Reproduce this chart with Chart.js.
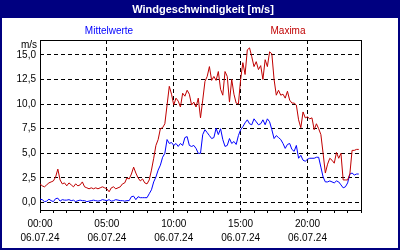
<!DOCTYPE html>
<html lang="de">
<head>
<meta charset="UTF-8">
<title>Windgeschwindigkeit</title>
<script src="https://cdn.jsdelivr.net/npm/chart.js"></script>
<style>
    body { margin: 0; padding: 0; background: #fff; }
    #wrap { width: 400px; height: 250px; }
</style>
</head>
<body>
<div id="wrap"><canvas id="wind" width="400" height="250"></canvas></div>
<script>
// Messwerte im 10-Minuten-Takt, 06.07.24 00:00 - 23:50
const stepHours = 1 / 6;
const meanValues = [
    0.35, 0.3, 0.1, 0.15, 0.35, 0.2,
    0.1, 0.4, 0.45, 0.15, 0.3, 0.25,
    0.25, 0.3, 0.2, 0.25, 0.1, 0.2,
    0.25, 0.2, 0.2, 0.1, 0.15, 0.2,
    0.25, 0.2, 0.15, 0.2, 0.3, 0.25,
    0.2, 0.3, 0.15, 0.2, 0.3, 0.25,
    0.2, 0.2, 0.15, 0.2, 0.2, 0.6,
    0.65, 0.3, 0.6, 0.5, 0.5, 0.5,
    0.5, 0.9, 1.3, 2.1, 2.6, 3.3,
    3.8, 4.6, 5.0, 6.4, 6.0, 6.1,
    5.8, 6.0, 5.7, 6.0, 5.8, 6.6,
    6.7, 5.8, 5.7, 5.8, 5.5, 5.0,
    5.0, 6.9, 7.4, 7.1, 6.8, 6.5,
    6.6, 7.55, 6.9, 7.5, 6.4, 5.7,
    5.8, 6.5, 6.0, 6.2, 5.9, 6.8,
    7.4, 7.7, 8.1, 8.4, 8.0, 7.9,
    8.5, 8.2, 7.9, 8.0, 8.4, 7.9,
    8.5, 8.2, 7.4, 6.5, 6.8, 6.6,
    6.4, 6.0, 5.5, 5.9, 6.0, 5.4,
    5.2, 5.8, 4.5, 4.8, 4.3, 4.2,
    4.4, 4.5, 4.5, 4.5, 4.6, 4.6,
    3.6, 2.6, 2.1, 2.1, 2.2, 2.1,
    2.0, 2.2, 2.1, 1.8, 1.5, 1.6,
    2.0, 2.9, 3.0, 2.8, 2.9, 2.9
];
const maxValues = [
    1.9, 1.7, 1.6, 1.8, 2.0, 2.1,
    2.2, 2.6, 3.4, 2.3, 1.9, 2.0,
    1.7, 2.0, 1.8, 1.6, 1.9, 1.7,
    1.8, 2.1, 1.6, 1.5, 1.4, 1.5,
    1.4, 1.5, 1.4, 1.5, 1.6, 1.5,
    1.4, 1.1, 1.5, 1.6, 1.4, 1.5,
    1.6, 1.9, 2.0, 2.5, 2.4, 2.9,
    3.6, 3.0, 2.5, 2.2, 2.4, 2.0,
    1.9, 2.3, 3.3, 4.5, 5.8, 6.4,
    7.5, 7.6, 8.0, 9.9, 11.8, 11.0,
    9.9, 10.6, 10.3, 9.7, 11.1, 10.8,
    11.4, 11.0, 9.9, 10.2, 9.7, 10.6,
    8.6, 10.4, 12.3, 12.8, 13.8, 12.4,
    12.8, 12.4, 13.3, 11.5, 10.9, 13.3,
    12.8, 10.2, 12.5, 11.0, 10.1, 10.0,
    12.5, 14.2, 13.0, 15.5, 15.7, 14.8,
    13.8, 14.3, 13.5, 13.9, 12.5, 14.5,
    13.8, 15.3, 15.1, 12.5, 10.9, 11.4,
    10.9, 11.0, 10.6, 11.3, 10.4, 10.1,
    10.1, 9.9, 8.4, 7.6, 9.2, 8.6,
    8.7, 8.5, 8.6, 7.4, 8.0, 7.5,
    6.9, 5.0, 3.0, 3.9, 4.5, 4.3,
    4.0, 5.1, 4.5, 5.0, 2.3, 2.3,
    2.3, 2.9, 5.3, 5.3, 5.4, 5.4
];
const yTicks = [0, 2.5, 5, 7.5, 10, 12.5, 15];
const hourTicks = [0, 1, 2, 3, 4, 5, 6, 7, 8, 9, 10, 11, 12, 13, 14, 15, 16, 17, 18, 19, 20, 21, 22, 23, 24];
const labelHours = [0, 5, 10, 15, 20];
const dateLabel = '06.07.24';

const navy = '#000080';
const font = 'Liberation Sans, Arial, sans-serif';

function toPoints(values) {
    return values.map((v, i) => ({ x: i * stepHours, y: v }));
}

// Rahmen, Titelbalken, Legende und Einheit
const framePlugin = {
    id: 'frame',
    beforeDraw(chart) {
        const c = chart.ctx;
        const w = chart.width, h = chart.height;
        c.save();
        c.fillStyle = '#fff';
        c.fillRect(0, 0, w, h);
        c.fillStyle = navy;
        c.fillRect(0, 0, w, 18);
        c.fillRect(0, 0, 2, h);
        c.fillRect(w - 2, 0, 2, h);
        c.fillRect(0, h - 2, w, 2);
        c.fillStyle = '#fff';
        c.font = 'bold 11px ' + font;
        c.textAlign = 'center';
        c.textBaseline = 'middle';
        c.fillText('Windgeschwindigkeit [m/s]', 203, 10);
        c.font = '10px ' + font;
        c.fillStyle = '#0000ff';
        c.fillText('Mittelwerte', 109, 31);
        c.fillStyle = '#c00000';
        c.fillText('Maxima', 288, 31);
        c.fillStyle = '#000';
        c.textAlign = 'right';
        c.fillText('m/s', 37, 45);
        c.restore();
    },
    beforeDatasetsDraw(chart) {
        const a = chart.chartArea;
        const c = chart.ctx;
        c.save();
        c.strokeStyle = '#000';
        c.lineWidth = 1;
        c.strokeRect(Math.round(a.left) + 0.5, Math.round(a.top) + 0.5,
            Math.round(a.right - a.left), Math.round(a.bottom - a.top));
        c.restore();
    }
};

new Chart(document.getElementById('wind').getContext('2d'), {
    type: 'line',
    data: {
        datasets: [{
            label: 'Maxima',
            data: toPoints(maxValues),
            borderColor: '#c00000',
            borderWidth: 1,
            pointRadius: 0,
            tension: 0
        }, {
            label: 'Mittelwerte',
            data: toPoints(meanValues),
            borderColor: '#0000ff',
            borderWidth: 1,
            pointRadius: 0,
            tension: 0
        }]
    },
    options: {
        responsive: false,
        animation: false,
        events: [],
        layout: { padding: { left: 0, top: 40, right: 39, bottom: 0 } },
        plugins: {
            legend: { display: false },
            title: { display: false },
            tooltip: { enabled: false }
        },
        scales: {
            x: {
                type: 'linear',
                min: 0,
                max: 24,
                afterBuildTicks: s => { s.ticks = hourTicks.map(v => ({ value: v })); },
                afterFit: s => { s.height = 40; },
                border: { display: false, dash: [4, 3] },
                grid: {
                    color: ctx => (labelHours.includes(ctx.tick.value) && ctx.tick.value > 0) ? '#000' : 'rgba(0,0,0,0)',
                    tickColor: '#000',
                    tickLength: 3,
                    lineWidth: 1
                },
                ticks: {
                    autoSkip: false,
                    maxRotation: 0,
                    padding: 4,
                    color: '#000',
                    font: { family: font, size: 10, lineHeight: 1.4 },
                    callback: v => labelHours.includes(v)
                        ? [String(v).padStart(2, '0') + ':00', dateLabel] : ''
                }
            },
            y: {
                min: -0.75,
                max: 16.5,
                afterBuildTicks: s => { s.ticks = yTicks.map(v => ({ value: v })); },
                afterFit: s => { s.width = 40; },
                border: { display: false, dash: [4, 3] },
                grid: { color: '#000', lineWidth: 1, drawTicks: false },
                ticks: {
                    padding: 4,
                    color: '#000',
                    font: { family: font, size: 10 },
                    callback: v => v.toFixed(1).replace('.', ',')
                }
            }
        }
    },
    plugins: [framePlugin]
});
</script>
</body>
</html>
